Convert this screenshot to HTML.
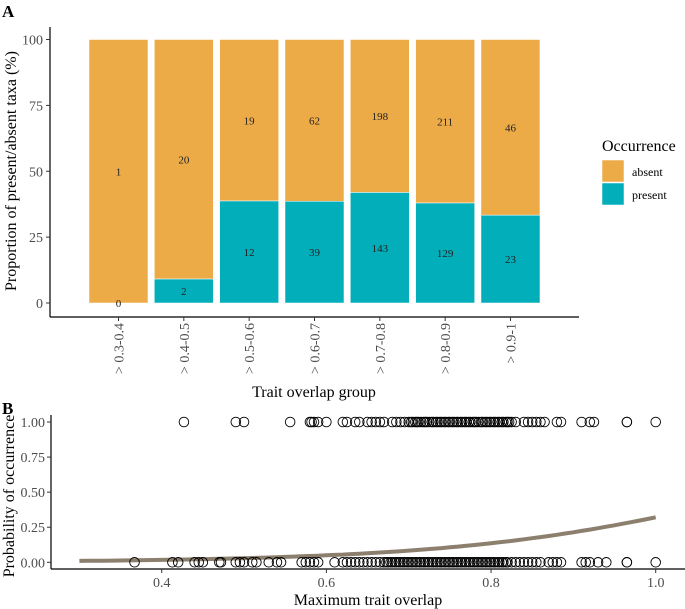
<!DOCTYPE html>
<html><head><meta charset="utf-8"><style>
body{margin:0;background:#fff;}
svg{display:block;font-family:"Liberation Serif",serif;}
</style></head><body>
<svg id="c" width="685" height="609" viewBox="0 0 685 609" xmlns="http://www.w3.org/2000/svg">
<text x="2" y="17" font-size="17" font-weight="bold">A</text>
<text x="2" y="414" font-size="17" font-weight="bold">B</text>
<g id="pa"></g>
<g id="pb"></g>
</svg>
<script>
const categories = ["> 0.3-0.4","> 0.4-0.5","> 0.5-0.6","> 0.6-0.7","> 0.7-0.8","> 0.8-0.9","> 0.9-1"];
const presentCounts = [0,2,12,39,143,129,23];
const absentCounts = [1,20,19,62,198,211,46];
const yTicksA = [0,25,50,75,100];

const presentX = [0.427,0.49,0.50,0.556,0.58,0.582,0.585,0.59,0.60,0.62,0.625,0.635,0.64,0.65,0.655,0.66,0.665,0.67,0.68,0.685,0.69,0.695,0.70,0.703,0.705,0.708,0.71,0.712,0.715,0.718,0.72,0.722,0.725,0.728,0.73,0.733,0.735,0.738,0.74,0.743,0.745,0.748,0.75,0.753,0.755,0.758,0.76,0.763,0.765,0.768,0.77,0.773,0.775,0.778,0.78,0.782,0.785,0.788,0.79,0.793,0.795,0.798,0.80,0.803,0.805,0.808,0.81,0.813,0.815,0.818,0.82,0.822,0.825,0.83,0.84,0.845,0.85,0.855,0.86,0.865,0.88,0.885,0.91,0.92,0.925,0.965,0.965,1.0];
const absentX = [0.367,0.413,0.42,0.44,0.445,0.45,0.47,0.472,0.49,0.495,0.50,0.51,0.515,0.53,0.54,0.545,0.57,0.575,0.58,0.585,0.59,0.61,0.62,0.625,0.63,0.635,0.64,0.645,0.65,0.655,0.66,0.665,0.67,0.673,0.675,0.678,0.68,0.683,0.685,0.688,0.69,0.693,0.695,0.698,0.70,0.703,0.705,0.708,0.71,0.713,0.715,0.718,0.72,0.723,0.725,0.728,0.73,0.733,0.735,0.738,0.74,0.743,0.745,0.748,0.75,0.753,0.755,0.758,0.76,0.763,0.765,0.768,0.77,0.773,0.775,0.778,0.78,0.783,0.785,0.788,0.79,0.793,0.795,0.798,0.80,0.803,0.805,0.808,0.81,0.813,0.815,0.818,0.82,0.825,0.83,0.835,0.84,0.845,0.85,0.855,0.86,0.87,0.875,0.88,0.885,0.91,0.915,0.92,0.93,0.94,0.965,0.965,1.0];
const xTicksB = [0.4,0.6,0.8,1.0];
const yTicksB = [0,0.25,0.5,0.75,1.0];
const yTickLabelsB = ["0.00","0.25","0.50","0.75","1.00"];
const fitIntercept = -6.25, fitSlope = 5.5;

const NS="http://www.w3.org/2000/svg";
function mk(parent,tag,attrs,text){const e=document.createElementNS(NS,tag);for(const k in attrs)e.setAttribute(k,attrs[k]);if(text!==undefined)e.textContent=text;parent.appendChild(e);return e;}

// Panel A
const pa=document.getElementById('pa');
const yA=v=>303-v*(303-39.5)/100;
const xA=i=>118.5+i*65.33;
const bw=59;
mk(pa,'line',{x1:50,y1:27,x2:50,y2:317,stroke:'#000','stroke-width':1.2});
mk(pa,'line',{x1:50,y1:317,x2:579,y2:317,stroke:'#000','stroke-width':1.2});
yTicksA.forEach(t=>{
  const tk=mk(pa,'line',{x1:46,y1:yA(t),x2:50,y2:yA(t),stroke:'#333'});
  
  
  const lb=mk(pa,'text',{x:43,y:yA(t)+5,'text-anchor':'end','font-size':14,fill:'#4d4d4d'},String(t));
  
  
});
categories.forEach((c,i)=>{
  const tot=presentCounts[i]+absentCounts[i];
  const pp=100*presentCounts[i]/tot;
  const cx=xA(i);
  const ra=mk(pa,'rect',{x:cx-bw/2,y:yA(100),width:bw,height:yA(pp)-yA(100),fill:'#EDAB48',stroke:'#fff','stroke-width':0.5});
  
  
  const rp=mk(pa,'rect',{x:cx-bw/2,y:yA(pp),width:bw,height:yA(0)-yA(pp),fill:'#03AEBB',stroke:'#fff','stroke-width':0.5});
  
  
  const la=mk(pa,'text',{x:cx,y:yA((100+pp)/2)+4,'text-anchor':'middle','font-size':11,fill:'#222'},String(absentCounts[i]));
  
  
  const lp=mk(pa,'text',{x:cx,y:yA(pp/2)+4,'text-anchor':'middle','font-size':11,fill:'#222'},String(presentCounts[i]));
  
  
  const tk=mk(pa,'line',{x1:cx,y1:317,x2:cx,y2:321,stroke:'#333'});
  
  
  const tl=mk(pa,'text',{x:0,y:0,'text-anchor':'end','font-size':14,fill:'#4d4d4d',transform:`translate(${cx+5},323) rotate(-90)`},c);
  
  
});
const xta=mk(pa,'text',{x:314,y:397,'text-anchor':'middle','font-size':16},'Trait overlap group');


const yta=mk(pa,'text',{x:0,y:0,'text-anchor':'middle','font-size':16,transform:'translate(16,171) rotate(-90)'},'Proportion of present/absent taxa (%)');


// legend
const lt=mk(pa,'text',{x:602,y:151,'font-size':16},'Occurrence');


[['absent','#EDAB48',160],['present','#03AEBB',183]].forEach(([n,col,y])=>{
  const s=mk(pa,'rect',{x:602,y:y,width:22,height:22,fill:col,stroke:'#fff','stroke-width':0.5});
  
  
  const t=mk(pa,'text',{x:632,y:y+16,'font-size':12},n);
  
  
});

// Panel B
const pb=document.getElementById('pb');
const xB=v=>161.7+(v-0.4)*(655.7-161.7)/0.6;
const yB=v=>562.3-v*(562.3-422);
mk(pb,'line',{x1:51,y1:415,x2:51,y2:569,stroke:'#000','stroke-width':1.2});
mk(pb,'line',{x1:51,y1:569,x2:685,y2:569,stroke:'#000','stroke-width':1.2});
yTicksB.forEach((t,i)=>{
  const tk=mk(pb,'line',{x1:47,y1:yB(t),x2:51,y2:yB(t),stroke:'#333'});
  
  
  const lb=mk(pb,'text',{x:45,y:yB(t)+5,'text-anchor':'end','font-size':14,fill:'#4d4d4d'},yTickLabelsB[i]);
  
  
});
xTicksB.forEach(t=>{
  const tk=mk(pb,'line',{x1:xB(t),y1:569,x2:xB(t),y2:573,stroke:'#333'});
  
  
  const lb=mk(pb,'text',{x:xB(t),y:587,'text-anchor':'middle','font-size':14,fill:'#4d4d4d'},t.toFixed(1));
  
  
});
// fit curve
let d='';
for(let k=0;k<=70;k++){const x=0.3+k*0.01;const p=1/(1+Math.exp(-(fitIntercept+fitSlope*x)));d+=(k?'L':'M')+xB(x).toFixed(1)+','+yB(p).toFixed(1);}
const cv=mk(pb,'path',{d:d,fill:'none',stroke:'#8C7F6E','stroke-width':4});


presentX.forEach(v=>{
  const c=mk(pb,'circle',{cx:xB(v),cy:yB(1),r:4.8,fill:'none',stroke:'#000','stroke-width':0.9});
  
  
});
absentX.forEach(v=>{
  const c=mk(pb,'circle',{cx:xB(v),cy:yB(0),r:4.8,fill:'none',stroke:'#000','stroke-width':0.9});
  
  
});
const xtb=mk(pb,'text',{x:368,y:605,'text-anchor':'middle','font-size':16},'Maximum trait overlap');


const ytb=mk(pb,'text',{x:0,y:0,'text-anchor':'middle','font-size':16,transform:'translate(14,496) rotate(-90)'},'Probability of occurrence');


</script>
</body></html>
